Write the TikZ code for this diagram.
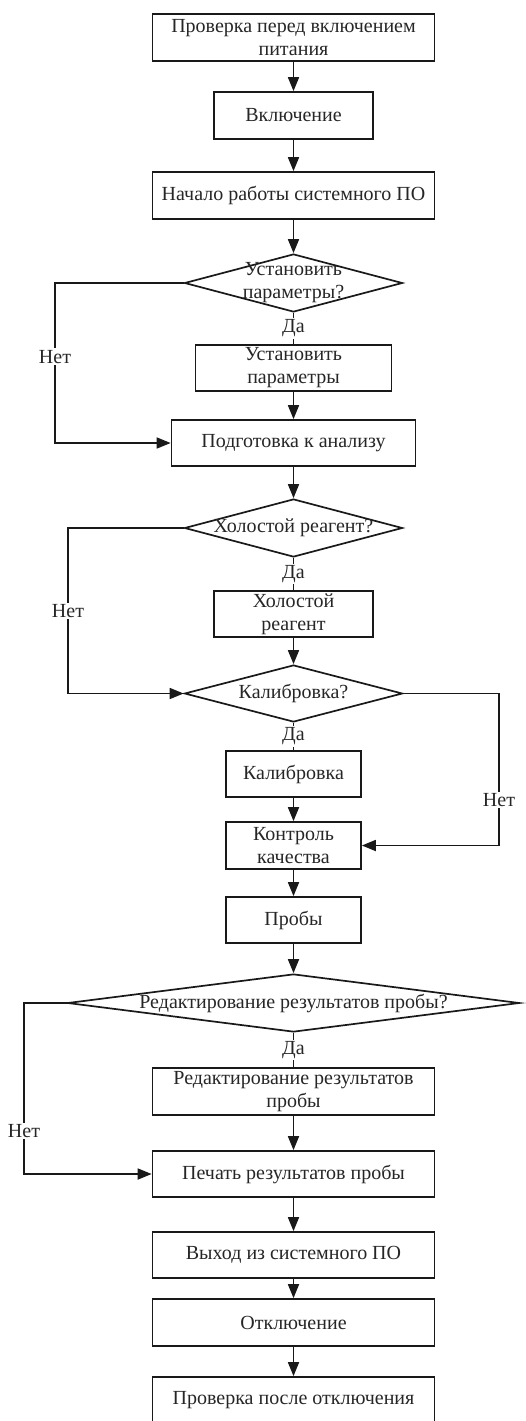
\documentclass[tikz,border=0pt]{standalone}
\usepackage{fontspec}
\setmainfont{Liberation Serif}
\usetikzlibrary{shapes.geometric,arrows.meta}
\begin{document}
\begin{tikzpicture}[x=1pt,y=-1pt,
  font=\fontsize{20}{23}\selectfont,
  stepbox/.style={draw=black!90, line width=1.7pt, rectangle, minimum height=46,
    inner sep=0pt, align=center, text=black!85},
  decision/.style={draw=black!90, line width=1.7pt, diamond, inner sep=0pt,
    minimum height=58},
  dtext/.style={align=center, inner sep=0pt, text=black!85},
  lbl/.style={fill=white, inner sep=1.5pt, text=black!85},
  link/.style={draw=black!90, line width=1.7pt},
  flow/.style={link, -{Triangle[length=14pt,width=11pt]}}
]
\useasboundingbox (0,0) rectangle (526,1421);
\clip (0,0) rectangle (526,1421);

% main column, all centred on one vertical axis
\def\cx{293.5}
\node[stepbox, minimum width=282, minimum height=47] (b1) at (\cx,37.5) {Проверка перед включением\\питания};
\node[stepbox, minimum width=159, minimum height=47] (b2) at (\cx,115.5) {Включение};
\node[stepbox, minimum width=282, minimum height=47] (b3) at (\cx,195.5) {Начало работы системного ПО};
\node[decision, minimum width=218] (d1) at (\cx,283) {};
\node[dtext] (d1t) at (d1) {Установить\\параметры?};
\node[stepbox, minimum width=196] (b4) at (\cx,368) {Установить\\параметры};
\node[stepbox, minimum width=244] (b5) at (\cx,443) {Подготовка к анализу};
\node[decision, minimum width=218] (d2) at (\cx,528) {};
\node[dtext] (d2t) at (d2) {Холостой реагент?};
\node[stepbox, minimum width=159] (b6) at (\cx,614) {Холостой\\реагент};
\node[decision, minimum width=218, minimum height=57] (d3) at (\cx,693.5) {};
\node[dtext] (d3t) at (d3) {Калибровка?};
\node[stepbox, minimum width=135] (b7) at (\cx,774) {Калибровка};
\node[stepbox, minimum width=135, minimum height=47] (b8) at (\cx,845.5) {Контроль\\качества};
\node[stepbox, minimum width=135] (b9) at (\cx,920) {Пробы};
\node[decision, minimum width=452] (d4) at (\cx,1003) {};
\node[dtext] (d4t) at (d4) {Редактирование результатов пробы?};
\node[stepbox, minimum width=282, minimum height=47] (b10) at (\cx,1091.5) {Редактирование результатов\\пробы};
\node[stepbox, minimum width=282] (b11) at (\cx,1174) {Печать результатов пробы};
\node[stepbox, minimum width=282] (b12) at (\cx,1255) {Выход из системного ПО};
\node[stepbox, minimum width=282, minimum height=47] (b13) at (\cx,1322.5) {Отключение};
\node[stepbox, minimum width=282, minimum height=47] (b14) at (\cx,1400.5) {Проверка после отключения};

% straight flow
\draw[flow] (b1) -- (b2);
\draw[flow] (b2) -- (b3);
\draw[flow] (b3.south) -- (d1.north);
\draw[link] (d1.south) -- node[lbl] (y1) {Да} (b4.north);
\draw[flow] (b4) -- (b5);
\draw[flow] (b5.south) -- (d2.north);
\draw[link] (d2.south) -- node[lbl] (y2) {Да} (b6.north);
\draw[flow] (b6.south) -- (d3.north);
\draw[link] (d3.south) -- node[lbl] (y3) {Да} (b7.north);
\draw[flow] (b7) -- (b8);
\draw[flow] (b8) -- (b9);
\draw[flow] (b9.south) -- (d4.north);
\draw[link] (d4.south) -- node[lbl] (y4) {Да} (b10.north);
\draw[flow] (b10) -- (b11);
\draw[flow] (b11) -- (b12);
\draw[flow] (b12) -- (b13);
\draw[flow] (b13) -- (b14);

% "no" branches
\coordinate (n1) at (55,283);
\draw[flow] (d1.west) -- (n1) -- node[lbl, pos=0.46] (l1) {Нет} (n1 |- b5.west) -- (b5.west);
\coordinate (n2) at (68,528);
\draw[flow] (d2.west) -- (n2) -- node[lbl, pos=0.5] (l2) {Нет} (n2 |- d3.west) -- (d3.west);
\coordinate (n3) at (499,693.5);
\draw[flow] (d3.east) -- (n3) -- node[lbl, pos=0.7] (l3) {Нет} (n3 |- b8.east) -- (b8.east);
\coordinate (n4) at (24,1003);
\draw[flow] (d4.west) -- (n4) -- node[lbl, pos=0.75] (l4) {Нет} (n4 |- b11.west) -- (b11.west);
\end{tikzpicture}
\end{document}
